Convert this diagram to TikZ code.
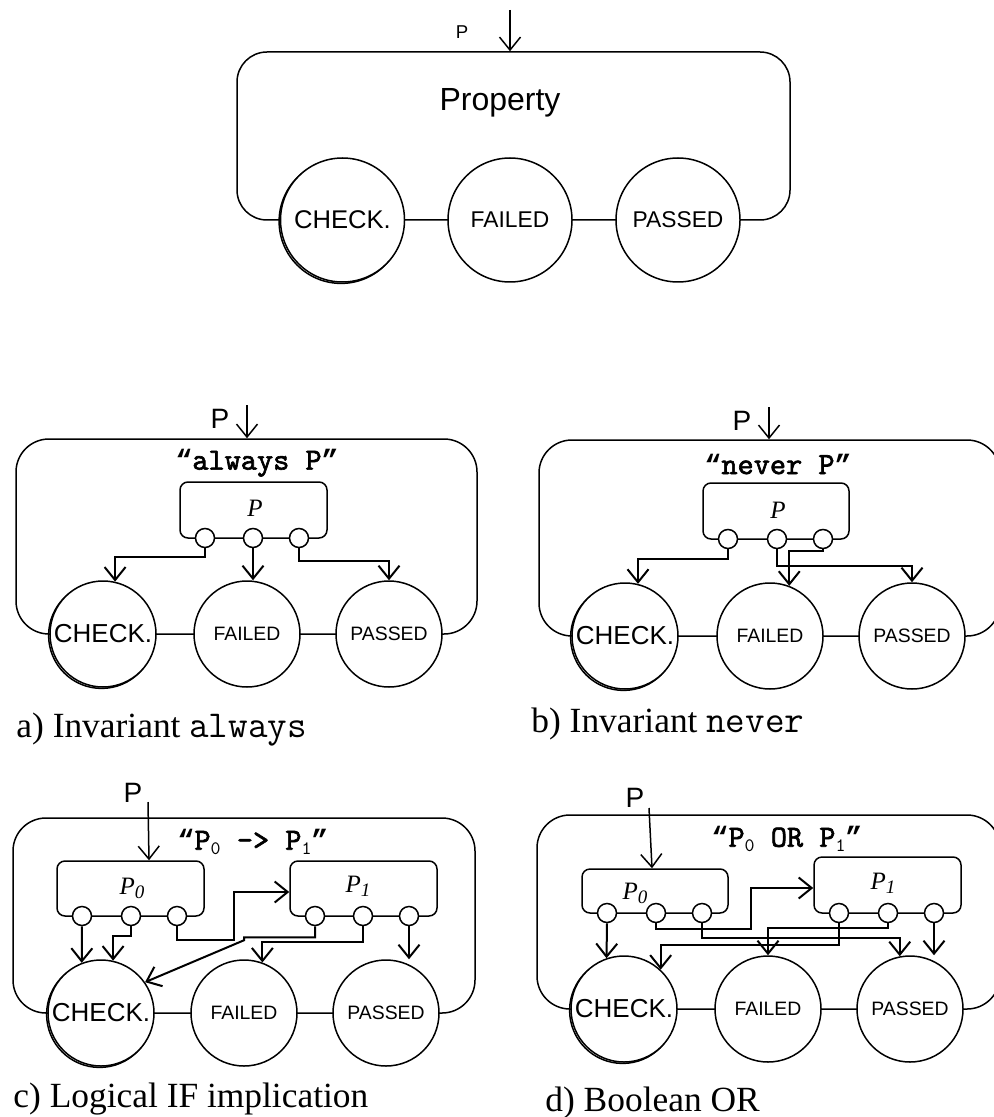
\documentclass[tikz,border=0pt]{standalone}
\usepackage{fontspec}
\setmainfont{Liberation Serif}
\setsansfont{Liberation Sans}
\newfontfamily\codefont[FakeBold=2]{lmmono10-regular.otf}
\newfontfamily\quotefont{Liberation Mono}
\usetikzlibrary{arrows.meta,calc}

% lowered index for P_0 / P_1
\newcommand\lowidx[1]{\raisebox{-0.35ex}{\fontsize{9.5}{9.5}\selectfont\mdseries #1}}
% index in a bold code title (plain weight)
\newcommand\codeidx[1]{\raisebox{-0.35ex}{\fontsize{9.5}{9.5}\selectfont\ttfamily\mdseries #1}}
% heavy curly quotes for the code titles
\newcommand\oq{{\quotefont\bfseries\fontsize{14}{14}\selectfont “}}
\newcommand\cq{{\quotefont\bfseries\fontsize{14}{14}\selectfont ”}}
% typewriter word inside a caption
\newcommand\capcode[1]{{\fontsize{19}{19}\selectfont\ttfamily #1}}

\tikzset{
  frame/.style={draw, line width=0.75pt, rounded corners=16.5pt, inner sep=0pt},
  unit/.style={draw, line width=0.75pt, rounded corners=4pt, inner sep=0pt},
  state/.style={circle, draw, fill=white, line width=0.75pt, minimum size=53pt,
    inner sep=0pt, font=\sffamily\fontsize{9.7}{10}\selectfont},
  bigstate/.style={state, minimum size=62pt, font=\sffamily\fontsize{11.4}{12}\selectfont},
  checkstate/.style={state, font=\sffamily\fontsize{13}{13}\selectfont},
  ghost/.style={circle, draw, line width=0.75pt, inner sep=0pt, minimum size=53pt},
  port/.style={circle, draw, fill=white, line width=0.75pt, minimum size=9.5pt, inner sep=0pt},
  flow/.style={line width=1pt, -{Straight Barb[length=6.5pt,width=10.5pt]}},
  feed/.style={line width=0.75pt, -{Straight Barb[length=6.5pt,width=10.5pt]}},
  title/.style={font=\codefont\fontsize{15.4}{16}\selectfont, inner sep=0pt},
  plabel/.style={font=\sffamily\fontsize{14}{14}\selectfont, inner sep=0pt},
  unitname/.style={font=\itshape\fontsize{12.5}{13}\selectfont, inner sep=0pt},
  caption/.style={anchor=base west, inner sep=0pt, font=\fontsize{17.7}{18}\selectfont},
}

\begin{document}
\begin{tikzpicture}[x=0.5pt, y=-0.5pt]
\useasboundingbox (0,0) rectangle (994,1117);
\fill[white] (0,0) rectangle (994,1117);
\clip (0,0) rectangle (994,1117);

% ---------- generic property ----------
\node[frame, rounded corners=15pt, minimum width=276.5pt, minimum height=84pt] (box0) at (513.5,136) {};
\node[font=\sffamily\fontsize{16}{16}\selectfont, inner sep=0pt] (prop) at (500,103) {Property};
\node[ghost, minimum size=62pt] (C0g) at ([shift={(-0.7pt,-0.7pt)}]342.5,220) {};
\node[bigstate, font=\sffamily\fontsize{12.8}{13}\selectfont] (C0) at (342.5,220) {CHECK.};
\node[bigstate] (F0) at (510,220) {FAILED};
\node[bigstate] (S0) at (678,220) {PASSED};
\node[font=\sffamily\fontsize{9.3}{9.3}\selectfont, inner sep=0pt] (p0) at (462,32) {P};
\coordinate (in0) at (510,10);
\draw[feed] (in0) -- (in0 |- box0.north);

% ---------- a) always ----------
\node[frame, minimum width=230.5pt, minimum height=97.5pt] (boxA) at (246.5,536.5) {};
\node[title] (tA) at (257,463) {\oq always P\cq};
\node[unit, minimum width=73.5pt, minimum height=28pt] (uA) at (253.5,510) {};
\node[unitname] (nA) at (255,508) {P};
\node[port] (aP1) at (205,538) {};
\node[port] (aP2) at (253,538) {};
\node[port] (aP3) at (299,538) {};
\node[ghost] (aCg) at ([shift={(-0.7pt,-0.7pt)}]103,634) {};
\node[checkstate] (aC) at (103,634) {CHECK.};
\node[state] (aF) at (247,634) {FAILED};
\node[state] (aS) at (389,634) {PASSED};
\node[plabel] (pA) at (220,419) {P};
\coordinate (inA) at (247,405);
\draw[feed] (inA) -- (inA |- boxA.north);
\draw[flow] (aP1.south) -- ++(0,9) -| (aC.77);
\draw[flow] (aP2.south) -- (aP2.south |- aF.north);
\draw[flow] (aP3.south) -- ++(0,13) -| (aS.north);
\node[caption] (capA) at (16,737) {a) Invariant \capcode{always}};

% ---------- b) never ----------
\node[frame, minimum width=230.5pt, minimum height=98pt] (boxB) at (769.5,538) {};
\node[title] (tB) at (778,464) {\oq never P\cq};
\node[unit, minimum width=73pt, minimum height=28pt] (uB) at (776,511) {};
\node[unitname] (nB) at (778,510) {P};
\node[port] (bP1) at (728,539) {};
\node[port] (bP2) at (777,539) {};
\node[port] (bP3) at (823,539) {};
\node[ghost] (bCg) at ([shift={(-0.7pt,-0.7pt)}]625,636) {};
\node[checkstate] (bC) at (625,636) {CHECK.};
\node[state] (bF) at (770,636) {FAILED};
\node[state] (bS) at (912,636) {PASSED};
\node[plabel] (pB) at (742,421) {P};
\coordinate (inB) at (769,407);
\draw[feed] (inB) -- (inB |- boxB.north);
\draw[flow] (bP1.south) -- ++(0,10) -| (bC.76);
\draw[flow] (bP3.south) -- ++(0,2) -| (bF.69);
\draw[flow] (bP2.south) -- ++(0,17) -| (bS.north);
\node[caption] (capB) at (531,732) {b) Invariant \capcode{never}};

% ---------- c) implication ----------
\node[frame, minimum width=231pt, minimum height=97.5pt] (boxC) at (244,915.5) {};
\node[title] (tC) at (253,842) {\oq P\codeidx{0} -> P\codeidx{1}\cq};
\node[unit, minimum width=73.5pt, minimum height=27.5pt] (uC0) at (130.5,888.5) {};
\node[unitname] (nC0) at (132,888) {P\lowidx{0}};
\node[unit, minimum width=73.5pt, minimum height=27.5pt] (uC1) at (363.5,888.5) {};
\node[unitname] (nC1) at (358,886) {P\lowidx{1}};
\node[port] (c0P1) at (82,916) {};
\node[port] (c0P2) at (131,916) {};
\node[port] (c0P3) at (177,916) {};
\node[port] (c1P1) at (315,916) {};
\node[port] (c1P2) at (363,916) {};
\node[port] (c1P3) at (409,916) {};
\node[ghost] (cCg) at ([shift={(-0.7pt,-0.7pt)}]101,1013) {};
\node[checkstate] (cC) at (101,1013) {CHECK.};
\node[state] (cF) at (244,1013) {FAILED};
\node[state] (cS) at (386,1013) {PASSED};
\node[plabel] (pC) at (133,793) {P};
\coordinate (inC) at (148,802);
\draw[feed] (inC) -- ([xshift=9.25pt]uC0.north);
\draw[flow] (c0P1.south) -- (cC.111);
\draw[flow] (c0P2.south) -- ++(0,10) -| (cC.77);
\draw[flow] (c0P3.south) -- ++(0,14) -- ++(57,0) |- ([yshift=-1.75pt]uC1.west);
\draw[flow] (c1P1.south) -- ++(0,11) -- ++(-71,0) -- ++(0,3) -- (cC.35);
\draw[flow] (c1P2.south) -- ++(0,16) -| (cF.70);
\draw[flow] (c1P3.south) -- (c1P3.south |- cS.north);
\node[caption] (capC) at (13,1107) {c) Logical IF implication};

% ---------- d) OR ----------
\node[frame, minimum width=231.5pt, minimum height=97pt] (boxD) at (768.5,912) {};
\node[title] (tD) at (787,839) {\oq P\codeidx{0} OR P\codeidx{1}\cq};
\node[unit, minimum width=73pt, minimum height=22pt] (uD0) at (655,891) {};
\node[unitname] (nD0) at (635,893) {P\lowidx{0}};
\node[unit, minimum width=73.5pt, minimum height=28pt] (uD1) at (887.5,885) {};
\node[unitname] (nD1) at (883,883) {P\lowidx{1}};
\node[port] (d0P1) at (607,913) {};
\node[port] (d0P2) at (656,913) {};
\node[port] (d0P3) at (702,913) {};
\node[port] (d1P1) at (839,913) {};
\node[port] (d1P2) at (888,913) {};
\node[port] (d1P3) at (934,913) {};
\node[ghost] (dCg) at ([shift={(-0.7pt,-0.7pt)}]624,1009) {};
\node[checkstate] (dC) at (624,1009) {CHECK.};
\node[state] (dF) at (768,1009) {FAILED};
\node[state] (dS) at (910,1009) {PASSED};
\node[plabel] (pD) at (635,798) {P};
\coordinate (inD) at (649,808);
\draw[feed] (inD) -- ([xshift=-1.5pt]uD0.north);
\draw[flow] (d0P1.south) -- (dC.109);
\draw[flow] (d0P2.south) -- ++(0,6) -- ++(95,0) |- ([yshift=-1.5pt]uD1.west);
\draw[flow] (d0P3.south) -- ++(0,15) -| (dS.101);
\draw[flow] (d1P1.south) -- ++(0,22) -| (dC.47);
\draw[flow] (d1P2.south) -- ++(0,5) -| (dF.north);
\draw[flow] (d1P3.south) -- (d1P3.south |- dS.north);
\node[caption] (capD) at (545,1111) {d) Boolean OR};
\end{tikzpicture}
\end{document}
